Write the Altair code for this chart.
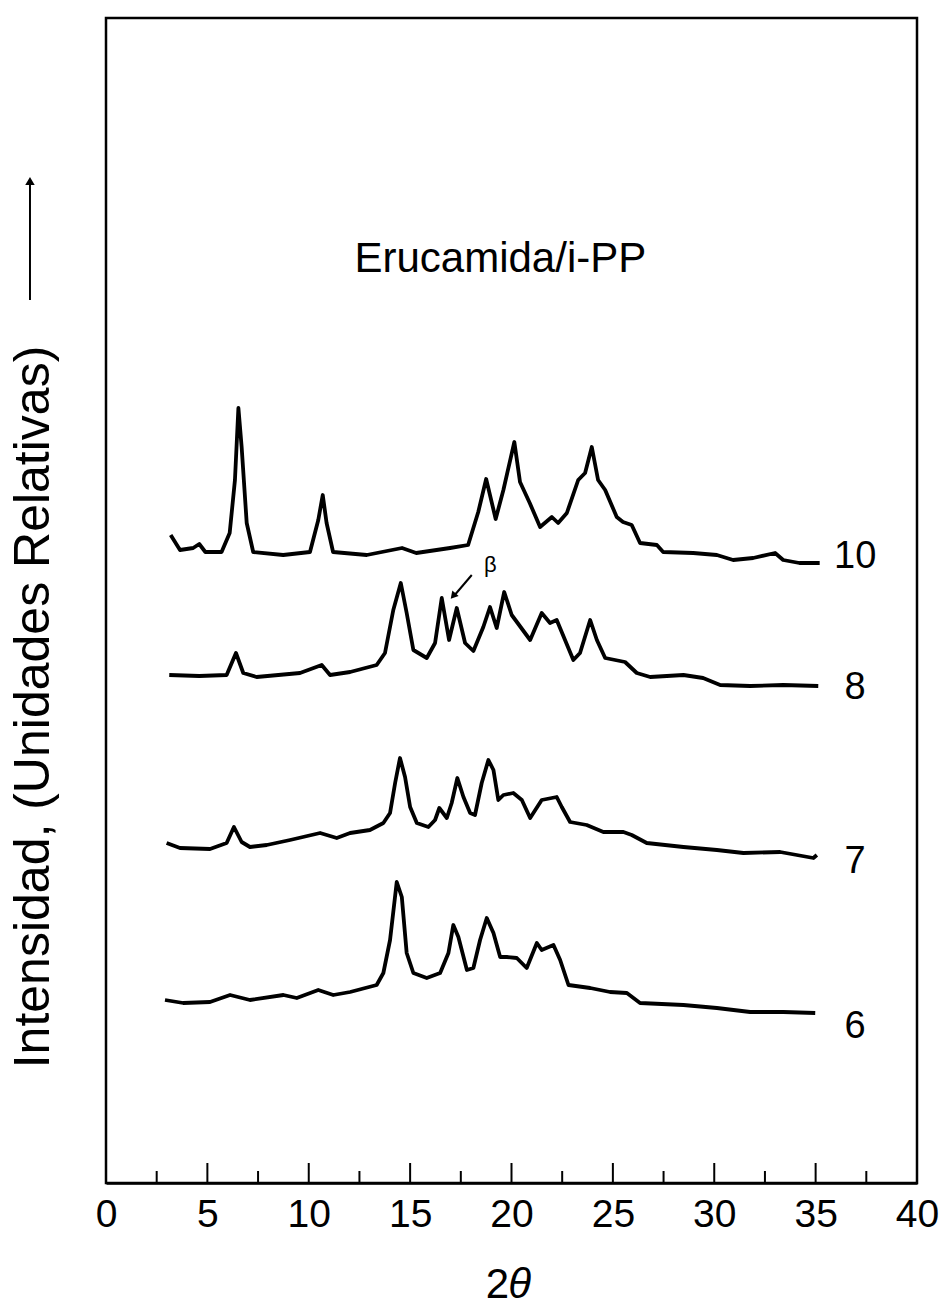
import altair as alt
import pandas as pd

# ---- data (2theta in degrees, intensity in arbitrary units) ----
x10 = [3.19, 3.65, 4.3, 4.6, 4.9, 5.7, 6.1, 6.36, 6.53, 6.69, 6.94, 7.26, 8.74, 10.06, 10.47, 10.69, 10.88, 11.2,
       12.86, 14.6, 15.3, 16.97, 17.86, 18.36, 18.75, 19.22, 19.6, 20.14, 20.42, 20.9, 21.41, 21.99, 22.3, 22.73,
       23.29, 23.63, 23.96, 24.27, 24.62, 25.19, 25.5, 25.93, 26.34, 27.17, 27.48, 28.96, 30.13, 30.93, 31.92,
       33.0, 33.4, 34.2, 35.2]
y10 = [648, 633, 635, 639, 631, 631, 650, 703, 775, 736, 660, 631, 628, 631, 663, 688, 660, 631,
       628, 635, 630, 635, 638, 671, 704, 664, 693, 741, 701, 680, 656, 666, 660, 670,
       703, 710, 736, 703, 693, 666, 661, 658, 640, 638, 631, 630, 628, 623, 625,
       630, 623, 620, 620]

x8 = [3.12, 4.6, 5.95, 6.41, 6.77, 7.43, 9.57, 10.64, 11.05, 12.04, 13.35, 13.76, 14.17, 14.54, 14.83, 15.16,
      15.82, 16.23, 16.56, 16.92, 17.3, 17.71, 18.12, 18.61, 18.94, 19.27, 19.64, 20.01, 20.92, 21.49, 21.9,
      22.23, 23.05, 23.38, 23.88, 24.21, 24.62, 25.6, 26.18, 26.84, 28.48, 29.45, 30.29, 31.77, 33.4, 35.13]
y8 = [508, 507, 508, 530, 510, 506, 510, 518, 508, 511, 518, 530, 573, 600, 570, 533,
      525, 540, 585, 543, 575, 540, 532, 556, 576, 555, 591, 568, 543, 570, 560,
      563, 523, 530, 563, 543, 525, 521, 510, 506, 508, 505, 498, 497, 498, 497]

x7 = [2.99, 3.65, 5.13, 5.95, 6.31, 6.69, 7.1, 7.93, 9.08, 10.56, 11.38, 12.04, 13.02, 13.68, 14.01, 14.26,
      14.5, 14.75, 15.0, 15.33, 15.9, 16.23, 16.44, 16.81, 17.05, 17.33, 17.63, 17.96, 18.2, 18.53, 18.86,
      19.11, 19.35, 19.6, 20.09, 20.51, 20.92, 21.49, 22.23, 22.48, 22.89, 23.71, 24.53, 25.52, 25.93, 26.67,
      28.48, 30.13, 31.44, 33.25, 34.89, 35.06]
y7 = [340, 335, 334, 340, 356, 341, 336, 338, 343, 350, 345, 350, 353, 360, 370, 400,
      425, 406, 376, 360, 356, 363, 375, 365, 380, 405, 386, 370, 368, 400, 423,
      413, 383, 388, 390, 383, 365, 383, 386, 376, 361, 358, 351, 351, 348, 340,
      336, 333, 330, 331, 325, 328]

x6 = [2.91, 3.81, 5.13, 6.12, 7.1, 8.75, 9.41, 10.47, 11.21, 12.04, 13.35, 13.68, 14.01, 14.34, 14.59, 14.83,
      15.16, 15.82, 16.48, 16.89, 17.13, 17.38, 17.8, 18.12, 18.45, 18.78, 19.11, 19.44, 19.77, 20.26, 20.75,
      21.25, 21.49, 22.07, 22.4, 22.81, 23.88, 24.86, 25.69, 26.34, 28.48, 30.13, 31.77, 33.41, 34.98]
y6 = [183, 180, 181, 188, 183, 188, 185, 193, 188, 191, 198, 210, 243, 301, 286, 230,
      210, 205, 210, 230, 258, 246, 213, 215, 243, 265, 250, 226, 226, 225, 215,
      240, 233, 238, 223, 198, 195, 191, 190, 180, 178, 175, 171, 171, 170]

series_names = ["10", "8", "7", "6"]
series_x = [x10, x8, x7, x6]
series_y = [y10, y8, y7, y6]
label_x = 36.95
label_y = [626, 495, 321, 156]

major_ticks = [5, 10, 15, 20, 25, 30, 35]
minor_ticks = [2.5, 7.5, 12.5, 17.5, 22.5, 27.5, 32.5, 37.5]
x_labels = [0, 5, 10, 15, 20, 25, 30, 35, 40]

title_text = "Erucamida/i-PP"
ytitle_text = "Intensidad, (Unidades Relativas)"

FONT = "Liberation Sans"

rows = []
for name, xs, ys in zip(series_names, series_x, series_y):
    for a, b in zip(xs, ys):
        rows.append({"serie": name, "t": a, "i": b})
df = pd.DataFrame(rows)

XS = alt.Scale(domain=[0, 40], nice=False)
YS = alt.Scale(domain=[0, 1165], nice=False)
X = alt.X("t:Q", scale=XS,
          axis=alt.Axis(values=x_labels, tickSize=0, labelFontSize=39, labelFont=FONT,
                        labelColor="black", domainColor="black", domainWidth=2.5,
                        labelPadding=12, grid=False, title=None, labelFlush=False))
Y = alt.Y("i:Q", scale=YS, axis=None)

lines = alt.Chart(df).mark_line(color="black", strokeWidth=3.8, strokeJoin="round").encode(
    x=X, y=Y, detail="serie:N", order="t:Q")

lab_df = pd.DataFrame({"t": [label_x] * 4, "i": label_y, "txt": series_names})
labels = alt.Chart(lab_df).mark_text(font=FONT, fontSize=38, color="black", align="center",
                                     baseline="middle").encode(x=X, y=Y, text="txt:N")

tick_df = pd.DataFrame({"t": major_ticks + minor_ticks,
                        "i": [0] * (len(major_ticks) + len(minor_ticks)),
                        "i1": [20] * len(major_ticks) + [12] * len(minor_ticks)})
ticks = alt.Chart(tick_df).mark_rule(color="black", strokeWidth=2).encode(
    x=X, y=Y, y2=alt.Y2("i1:Q"))

title_df = pd.DataFrame({"t": [19.45], "i": [911], "txt": [title_text]})
title = alt.Chart(title_df).mark_text(font=FONT, fontSize=42, color="black", align="center",
                                      baseline="alphabetic").encode(x=X, y=Y, text="txt:N")

ytitle_df = pd.DataFrame({"t": [-3.55], "i": [476], "txt": [ytitle_text]})
ytitle = alt.Chart(ytitle_df).mark_text(font=FONT, fontSize=50, color="black", align="center",
                                        baseline="middle", angle=270).encode(x=X, y=Y, text="txt:N")

# x-axis title "2θ" (2 upright, θ italic)
xt_df = pd.DataFrame({"t": [19.3], "i": [-102], "txt": ["2"]})
xt2_df = pd.DataFrame({"t": [20.4], "i": [-102], "txt": ["θ"]})
xt1 = alt.Chart(xt_df).mark_text(font=FONT, fontSize=42, color="black", baseline="middle").encode(
    x=X, y=Y, text="txt:N")
xt2 = alt.Chart(xt2_df).mark_text(font=FONT, fontSize=42, fontStyle="italic", color="black",
                                  baseline="middle").encode(x=X, y=Y, text="txt:N")

# vertical arrow at left
arr_df = pd.DataFrame({"t": [-3.75], "i": [883], "i1": [1000]})
arr_line = alt.Chart(arr_df).mark_rule(color="black", strokeWidth=2).encode(x=X, y=Y, y2=alt.Y2("i1:Q"))
arr_head_df = pd.DataFrame({"t": [-3.75], "i": [1002]})
arr_head = alt.Chart(arr_head_df).mark_point(shape="triangle-up", filled=True, color="black",
                                             size=90, opacity=1).encode(x=X, y=Y)

# beta annotation
beta_df = pd.DataFrame({"t": [18.95], "i": [618], "txt": ["β"]})
beta = alt.Chart(beta_df).mark_text(font=FONT, fontSize=22, color="black", baseline="middle").encode(
    x=X, y=Y, text="txt:N")
barr_df = pd.DataFrame({"t": [18.04], "i": [608], "t2": [17.2], "i1": [588]})
barr = alt.Chart(barr_df).mark_rule(color="black", strokeWidth=2).encode(
    x=X, y=Y, x2=alt.X2("t2:Q"), y2=alt.Y2("i1:Q"))
bhead_df = pd.DataFrame({"t": [17.12], "i": [587]})
bhead = alt.Chart(bhead_df).mark_point(shape="triangle-up", filled=True, color="black", size=70,
                                       angle=221, opacity=1).encode(x=X, y=Y)

chart = alt.layer(ticks, lines, labels, title, ytitle, xt1, xt2, arr_line, arr_head, beta, barr, bhead).properties(
    width=811, height=1165,
    autosize=alt.AutoSizeParams(type="none"),
    padding={"left": 106, "top": 18, "right": 25, "bottom": 126},
    background="white",
).configure_view(stroke="black", strokeWidth=2.5)

chart.save("out.html", embed_options={"renderer": "svg", "actions": False})
